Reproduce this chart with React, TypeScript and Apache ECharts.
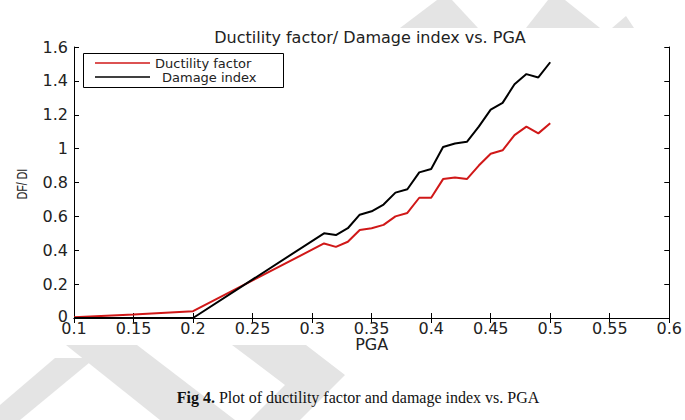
import React, { useEffect, useRef } from "react";
import * as echarts from "echarts";

// Peak ground acceleration values (g)
const pga = [
  0.1, 0.15, 0.2, 0.31, 0.32, 0.33, 0.34, 0.35, 0.36, 0.37, 0.38, 0.39, 0.4,
  0.41, 0.42, 0.43, 0.44, 0.45, 0.46, 0.47, 0.48, 0.49, 0.5,
];
// Ductility factor at each PGA
const ductilityFactor = [
  0.005, 0.02, 0.04, 0.44, 0.42, 0.45, 0.52, 0.53, 0.55, 0.6, 0.62, 0.71, 0.71,
  0.82, 0.83, 0.82, 0.9, 0.97, 0.99, 1.08, 1.13, 1.09, 1.15,
];
// Damage index at each PGA
const damageIndex = [
  0, 0, 0, 0.5, 0.49, 0.53, 0.61, 0.63, 0.67, 0.74, 0.76, 0.86, 0.88, 1.01,
  1.03, 1.04, 1.13, 1.23, 1.27, 1.38, 1.44, 1.42, 1.51,
];

const seriesNames = ["Ductility factor", "Damage index"];
const chartTitle = "Ductility factor/ Damage index vs. PGA";
const xName = "PGA";
const yName = "DF/ DI";

const FONT = "DejaVu Sans";
const fmt = (v: number) => String(Math.round(v * 100) / 100);
// the zero label on the value axis sits a little higher, clear of the x labels
const fmtY = (v: number) => (v === 0 ? "{z|0}" : fmt(v));

export default function App() {
  const ref = useRef<HTMLDivElement>(null);

  useEffect(() => {
    if (!ref.current) return;
    const chart = echarts.init(ref.current, null, { renderer: "svg" });

    const axisCommon = {
      axisLine: { show: true, lineStyle: { color: "#000", width: 1 } },
      axisTick: { show: true, inside: true, length: 5, lineStyle: { color: "#000" } },
      splitLine: { show: false },
    };

    const label = {
      color: "#222",
      fontFamily: FONT,
      fontSize: 16,
      lineHeight: 12,
    };

    chart.setOption({
      animation: false,
      backgroundColor: "#fff",
      grid: { left: 74, right: 14, top: 47, bottom: 102 },
      xAxis: [
        {
          type: "value",
          min: 0.1,
          max: 0.6,
          interval: 0.05,
          position: "bottom",
          ...axisCommon,
          axisLabel: { ...label, formatter: fmt, margin: 4 },
          name: xName,
          nameLocation: "middle",
          nameGap: 19,
          nameMoveOverlap: false,
          nameTextStyle: { color: "#222", fontFamily: FONT, fontSize: 16, lineHeight: 14 },
        },
        {
          type: "value",
          min: 0.1,
          max: 0.6,
          interval: 0.05,
          position: "top",
          ...axisCommon,
          axisLabel: { show: false },
        },
      ],
      yAxis: [
        {
          type: "value",
          min: 0,
          max: 1.6,
          interval: 0.2,
          position: "left",
          ...axisCommon,
          axisLabel: {
            ...label,
            formatter: fmtY,
            margin: 6,
            rich: {
              z: {
                color: "#222",
                fontFamily: FONT,
                fontSize: 16,
                lineHeight: 12,
                padding: [0, 0, 4, 0],
              },
            },
          },
        },
        {
          type: "value",
          min: 0,
          max: 1.6,
          interval: 0.2,
          position: "right",
          ...axisCommon,
          axisLabel: { show: false },
        },
      ],
      series: [
        {
          name: seriesNames[0],
          type: "line",
          showSymbol: false,
          data: pga.map((x, i) => [x, ductilityFactor[i]]),
          lineStyle: { color: "#d01818", width: 2 },
          itemStyle: { color: "#d01818" },
          z: 2,
        },
        {
          name: seriesNames[1],
          type: "line",
          showSymbol: false,
          data: pga.map((x, i) => [x, damageIndex[i]]),
          lineStyle: { color: "#000", width: 2 },
          itemStyle: { color: "#000" },
          z: 3,
        },
      ],
      graphic: [
        // faint background watermark strokes
        {
          type: "group",
          silent: true,
          z: -10,
          children: [
            { type: "polygon", shape: { points: [[400, 28], [437, 0], [452, 0], [478, 28]] }, style: { fill: "#e4e4e4" } },
            { type: "polygon", shape: { points: [[526, 28], [548, 0], [565, 0], [600, 28]] }, style: { fill: "#e4e4e4" } },
            { type: "polygon", shape: { points: [[612, 28], [626, 16], [634, 28]] }, style: { fill: "#e4e4e4" } },
            { type: "polygon", shape: { points: [[0, 405], [55, 358], [95, 358], [20, 420], [0, 420]] }, style: { fill: "#e4e4e4" } },
            { type: "polygon", shape: { points: [[66, 345], [137, 345], [235, 420], [160, 420]] }, style: { fill: "#e4e4e4" } },
            { type: "polygon", shape: { points: [[232, 345], [306, 345], [345, 375], [300, 420], [250, 420], [285, 385]] }, style: { fill: "#e4e4e4" } },
          ],
        },
        // chart title
        {
          type: "text",
          x: 370,
          y: 37,
          style: {
            text: chartTitle,
            fontFamily: FONT,
            fontSize: 16,
            fill: "#222",
            align: "center",
            verticalAlign: "middle",
          },
        },
        // rotated y-axis title
        {
          type: "text",
          x: 22,
          y: 184,
          rotation: Math.PI / 2,
          scaleX: 0.75,
          style: {
            text: yName,
            fontFamily: "Liberation Sans",
            fontSize: 14,
            fill: "#222",
            align: "center",
            verticalAlign: "middle",
          },
        },
        // legend box
        {
          type: "group",
          z: 10,
          children: [
            { type: "rect", shape: { x: 83.5, y: 53.5, width: 200, height: 34 }, style: { fill: "#fff", stroke: "#000", lineWidth: 1 } },
            { type: "line", shape: { x1: 95, y1: 63, x2: 150, y2: 63 }, style: { stroke: "#d01818", lineWidth: 1.5 } },
            { type: "line", shape: { x1: 95, y1: 77, x2: 150, y2: 77 }, style: { stroke: "#000", lineWidth: 1.5 } },
            { type: "text", x: 155, y: 63, style: { text: seriesNames[0], fontFamily: FONT, fontSize: 13, fill: "#222", verticalAlign: "middle" } },
            { type: "text", x: 162, y: 77, style: { text: seriesNames[1], fontFamily: FONT, fontSize: 13, fill: "#222", verticalAlign: "middle" } },
          ],
        },
        // figure caption
        {
          type: "text",
          x: 358,
          y: 397,
          style: {
            text: "{b|Fig 4.} Plot of ductility factor and damage index vs. PGA",
            fontFamily: "Liberation Serif",
            fontSize: 16,
            fill: "#111",
            align: "center",
            verticalAlign: "middle",
            rich: {
              b: { fontFamily: "Liberation Serif", fontSize: 16, fontWeight: "bold", fill: "#111" },
            },
          },
        },
      ],
    });

    return () => chart.dispose();
  }, []);

  return (
    <div
      ref={ref}
      style={{ position: "absolute", left: 0, top: 0, width: 685, height: 420 }}
    />
  );
}
